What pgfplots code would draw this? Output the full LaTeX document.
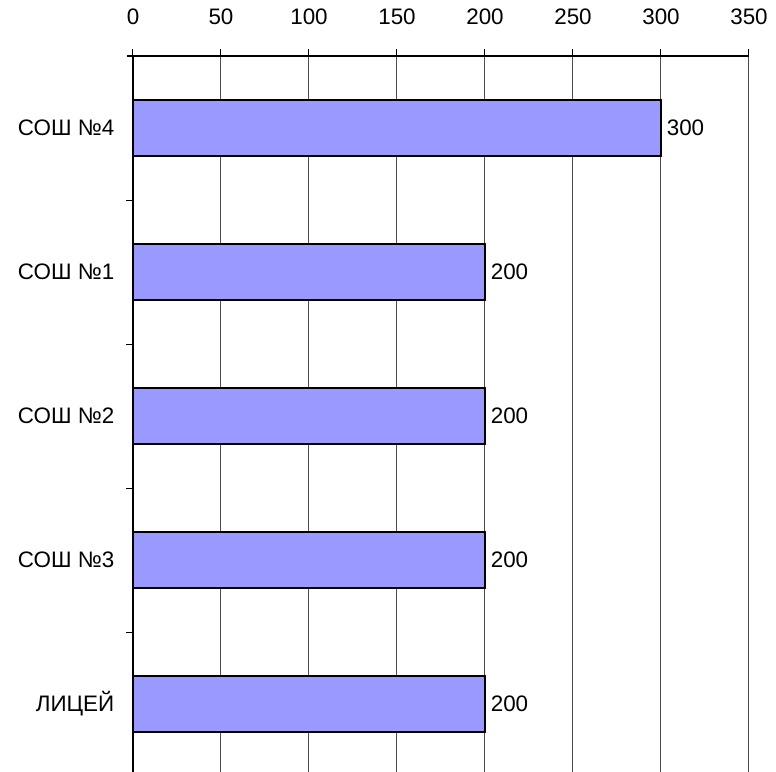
\documentclass[border=0pt]{standalone}
\usepackage{pgfplots}
\pgfplotsset{compat=1.18}
\usepackage{fontspec}
\setmainfont{Liberation Sans}
\definecolor{barblue}{HTML}{9999FF}
\begin{document}
\begin{tikzpicture}[x=1pt,y=1pt]
\begin{axis}[
  name=ax,
  scale only axis,
  width=462pt, height=537pt,
  xmin=0, xmax=350,
  ymin=-0.5, ymax=4.472,
  y dir=reverse,
  xbar, bar width=42pt,
  axis x line*=top,
  axis y line*=left,
  axis line style={black, line width=0.8pt, -},
  xtick={0,50,...,350},
  xmajorgrids,
  major grid style={black!70, line width=0.75pt},
  x tick style={black, line width=0.75pt},
  major tick length=5.25pt,
  tick align=outside,
  xticklabel style={yshift=14.5pt},
  ytick={0,1,2,3,4},
  yticklabels={СОШ №4,СОШ №1,СОШ №2,СОШ №3,ЛИЦЕЙ},
  y tick style={draw=none},
  yticklabel style={xshift=-5.25pt},
  extra y ticks={0.5,1.5,2.5,3.5},
  extra y tick labels={},
  extra y tick style={y tick style={draw=black, line width=0.75pt}, major tick length=5.25pt},
  tick label style={font=\fontsize{16.8}{19}\selectfont},
  /pgf/number format/assume math mode=true,
  nodes near coords,
  nodes near coords style={anchor=west, font=\fontsize{16.8}{19}\selectfont, xshift=0.5pt},
  clip=false,
]
\addplot[fill=barblue, draw=black, line width=1.1pt] coordinates {
  (300,0) (200,1) (200,2) (200,3) (200,4)
};
\coordinate (o) at (rel axis cs:0,1);
\end{axis}
\draw[black, line width=0.8pt] (o) -- ++(-4.5pt,0pt);
\pgfresetboundingbox
\path ([shift={(-99.75pt,42pt)}]o) rectangle ++(582pt,-579pt);
\end{tikzpicture}
\end{document}
